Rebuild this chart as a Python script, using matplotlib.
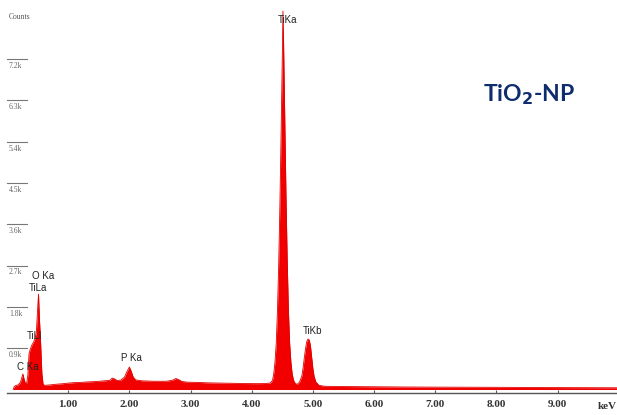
import numpy as np
import matplotlib
matplotlib.use("Agg")
import matplotlib.pyplot as plt
import matplotlib.transforms as mtransforms

# EDS spectrum: energy (keV) and counts
energy_kev = [
    0.10, 0.12, 0.15, 0.18, 0.22, 0.24, 0.26, 0.28, 0.30, 0.32, 0.34, 0.36,
    0.38, 0.40, 0.42, 0.44, 0.46, 0.48, 0.50, 0.515, 0.53, 0.55, 0.57, 0.59,
    0.62, 0.65, 0.70, 0.80, 0.90, 1.00, 1.10, 1.20, 1.30, 1.40, 1.50, 1.60,
    1.68, 1.72, 1.76, 1.80, 1.86, 1.92, 1.96, 2.00, 2.03, 2.06, 2.10, 2.20,
    2.30, 2.40, 2.50, 2.60, 2.70, 2.76, 2.80, 2.86, 2.95, 3.10, 3.30, 3.50,
    3.70, 3.90, 4.10, 4.20, 4.26, 4.30, 4.34, 4.36, 4.38, 4.40, 4.42, 4.44,
    4.46, 4.48, 4.50, 4.51, 4.52, 4.54, 4.56, 4.58, 4.60, 4.62, 4.64, 4.66,
    4.68, 4.70, 4.74, 4.78, 4.82, 4.84, 4.86, 4.88, 4.90, 4.92, 4.94, 4.96,
    4.98, 5.00, 5.02, 5.05, 5.10, 5.20, 5.50, 6.00, 6.50, 7.00, 7.50, 8.00,
    8.50, 9.00, 9.50, 9.97,
]
counts = [
    0, 70, 90, 100, 160, 250, 340, 220, 140, 130, 300, 780,
    880, 950, 1000, 1050, 1120, 1250, 1750, 2080, 1550, 1000, 350, 110,
    90, 95, 100, 115, 125, 140, 150, 155, 165, 170, 180, 190,
    200, 250, 230, 195, 205, 270, 390, 490, 400, 280, 210, 190,
    185, 180, 180, 180, 200, 240, 220, 175, 160, 155, 145, 140,
    135, 130, 128, 130, 135, 140, 200, 350, 600, 1000, 1700, 2700,
    4000, 5600, 7300, 8250, 7600, 5900, 4200, 2800, 1700, 1000, 600, 350,
    220, 150, 110, 160, 300, 480, 700, 900, 1050, 1100, 1080, 950,
    700, 450, 280, 160, 90, 70, 65, 60, 55, 52, 50, 48,
    45, 42, 40, 38,
]

peak_labels = ["C Ka", "TiLl", "TiLa", "O Ka", "P Ka", "TiKa", "TiKb"]
peak_x = [0.34, 0.45, 0.51, 0.59, 2.04, 4.58, 4.99]
peak_y = [490, 1165, 2210, 2475, 690, 8050, 1275]

ytick_vals = [900, 1800, 2700, 3600, 4500, 5400, 6300, 7200]
ytick_text = ["0.9k", "1.8k", "2.7k", "3.6k", "4.5k", "5.4k", "6.3k", "7.2k"]
xtick_vals = [1, 2, 3, 4, 5, 6, 7, 8, 9]

fig = plt.figure(figsize=(6.17, 4.15), dpi=100)
ax = fig.add_axes([7 / 617, 22 / 415, 610 / 617, 393 / 415])

ax.fill_between(energy_kev, counts, 0, color="#f20000", linewidth=0)
ax.plot(energy_kev, counts, color="#e00000", linewidth=0.6)

ax.set_xlim(0, 9.97)
ax.set_ylim(-76, 8490)

for side in ["top", "right", "left"]:
    ax.spines[side].set_visible(False)
ax.spines["bottom"].set_color("#555555")
ax.spines["bottom"].set_linewidth(1.0)

ax.set_yticks([])
ax.set_xticks(xtick_vals)
ax.set_xticklabels([f"{v:.2f}" for v in xtick_vals], fontfamily="Liberation Serif",
                   fontweight="bold", fontsize=8, color="#333333")
ax.tick_params(axis="x", direction="in", length=2.5, width=0.8, color="#555555", pad=5)

# short count markers on the left with labels underneath
trans = mtransforms.blended_transform_factory(ax.transAxes, ax.transData)
for v, t in zip(ytick_vals, ytick_text):
    ax.plot([0.0, 0.033], [v, v], transform=trans, color="#777777", linewidth=0.8,
            clip_on=False)
    ax.text(0.003, v - 60, t, transform=trans, ha="left", va="top",
            fontsize=5.5, fontfamily="Liberation Serif", color="#666666")

fig.text(9 / 617, 1 - 17 / 415, "Counts", ha="left", va="center", fontsize=5.5,
         fontfamily="Liberation Serif", color="#555555")
fig.text(607 / 617, 1 - 406 / 415, "keV", ha="center", va="center", fontsize=8,
         fontfamily="Liberation Serif", fontweight="bold", color="#333333")

for lab, x, y in zip(peak_labels, peak_x, peak_y):
    ax.text(x, y, lab, ha="center", va="center", fontsize=7,
            fontfamily="Liberation Sans", color="#222222")

fig.text(529 / 617, 1 - 95 / 415, r"TiO$_\mathbf{2}$-NP", ha="center", va="center",
         fontsize=16.5, fontfamily="Lato", fontweight="bold", color="#0f2d6e")

fig.savefig("out.png", dpi=100)
